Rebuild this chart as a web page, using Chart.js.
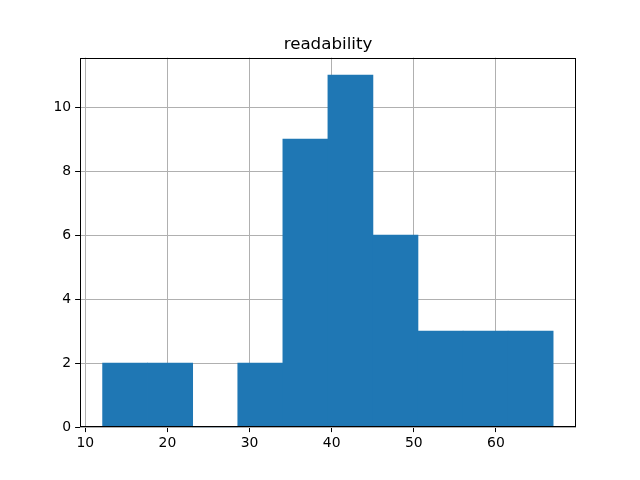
<!DOCTYPE html>
<html>
<head>
<meta charset="utf-8">
<script src="https://cdn.jsdelivr.net/npm/chart.js@4"></script>
<style>
  html, body { margin: 0; padding: 0; background: #fff; }
  #wrap { width: 640px; height: 480px; position: relative; }
</style>
</head>
<body>
<div id="wrap"><canvas id="c" width="640" height="480"></canvas></div>
<script>
// Histogram of "readability": 10 bins
const chartTitle = 'readability';
const binEdges = [12.1, 17.59, 23.07, 28.56, 34.05, 39.54, 45.02, 50.51, 56.0, 61.48, 66.97];
const binCounts = [2, 2, 0, 2, 9, 11, 6, 3, 3, 3];
const xTicks = [10, 20, 30, 40, 50, 60];
const yTicks = [0, 2, 4, 6, 8, 10];

const points = binCounts.map((c, i) => ({ x: (binEdges[i] + binEdges[i + 1]) / 2, y: c }));
const FONT = 'DejaVu Sans';

const framePlugin = {
  id: 'frame',
  afterDraw(chart) {
    const { ctx, chartArea: a } = chart;
    const l = Math.round(a.left) + 0.5, r = Math.round(a.right) - 0.5;
    const t = Math.round(a.top) + 0.5, b = Math.round(a.bottom) - 0.5;
    ctx.save();
    ctx.strokeStyle = '#000';
    ctx.lineWidth = 1;
    ctx.strokeRect(l, t, r - l, b - t);
    ctx.fillStyle = '#000';
    ctx.font = '16.7px "' + FONT + '"';
    ctx.textAlign = 'center';
    ctx.textBaseline = 'alphabetic';
    ctx.fillText(chartTitle, (a.left + a.right) / 2, a.top - 8.3);
    ctx.restore();
  }
};

new Chart(document.getElementById('c'), {
  type: 'bar',
  data: {
    datasets: [{
      data: points,
      backgroundColor: '#1f77b4',
      borderWidth: 0,
      barPercentage: 1,
      categoryPercentage: 1
    }]
  },
  options: {
    responsive: false,
    animation: false,
    devicePixelRatio: 1,
    layout: { padding: { left: 0, right: 64, top: 57.6, bottom: 0 } },
    plugins: { legend: { display: false }, tooltip: { enabled: false }, title: { display: false } },
    scales: {
      x: {
        type: 'linear',
        min: 9.35,
        max: 69.75,
        offset: false,
        z: 1,
        afterFit(s) { s.height = 52.8; },
        afterBuildTicks(s) { s.ticks = xTicks.map(v => ({ value: v })); },
        ticks: { color: '#000', font: { family: FONT, size: 13.9 }, padding: 3, maxRotation: 0, includeBounds: false },
        grid: { color: '#b0b0b0', lineWidth: 1, tickColor: '#000', tickLength: 4.9, drawTicks: true, offset: false },
        border: { display: false }
      },
      y: {
        type: 'linear',
        min: 0,
        max: 11.55,
        z: 1,
        afterFit(s) { s.width = 80; },
        afterBuildTicks(s) { s.ticks = yTicks.map(v => ({ value: v })); },
        ticks: { color: '#000', font: { family: FONT, size: 13.9 }, padding: 4, includeBounds: false },
        grid: { color: '#b0b0b0', lineWidth: 1, tickColor: '#000', tickLength: 4.9, drawTicks: true },
        border: { display: false }
      }
    }
  },
  plugins: [framePlugin]
});
</script>
</body>
</html>
